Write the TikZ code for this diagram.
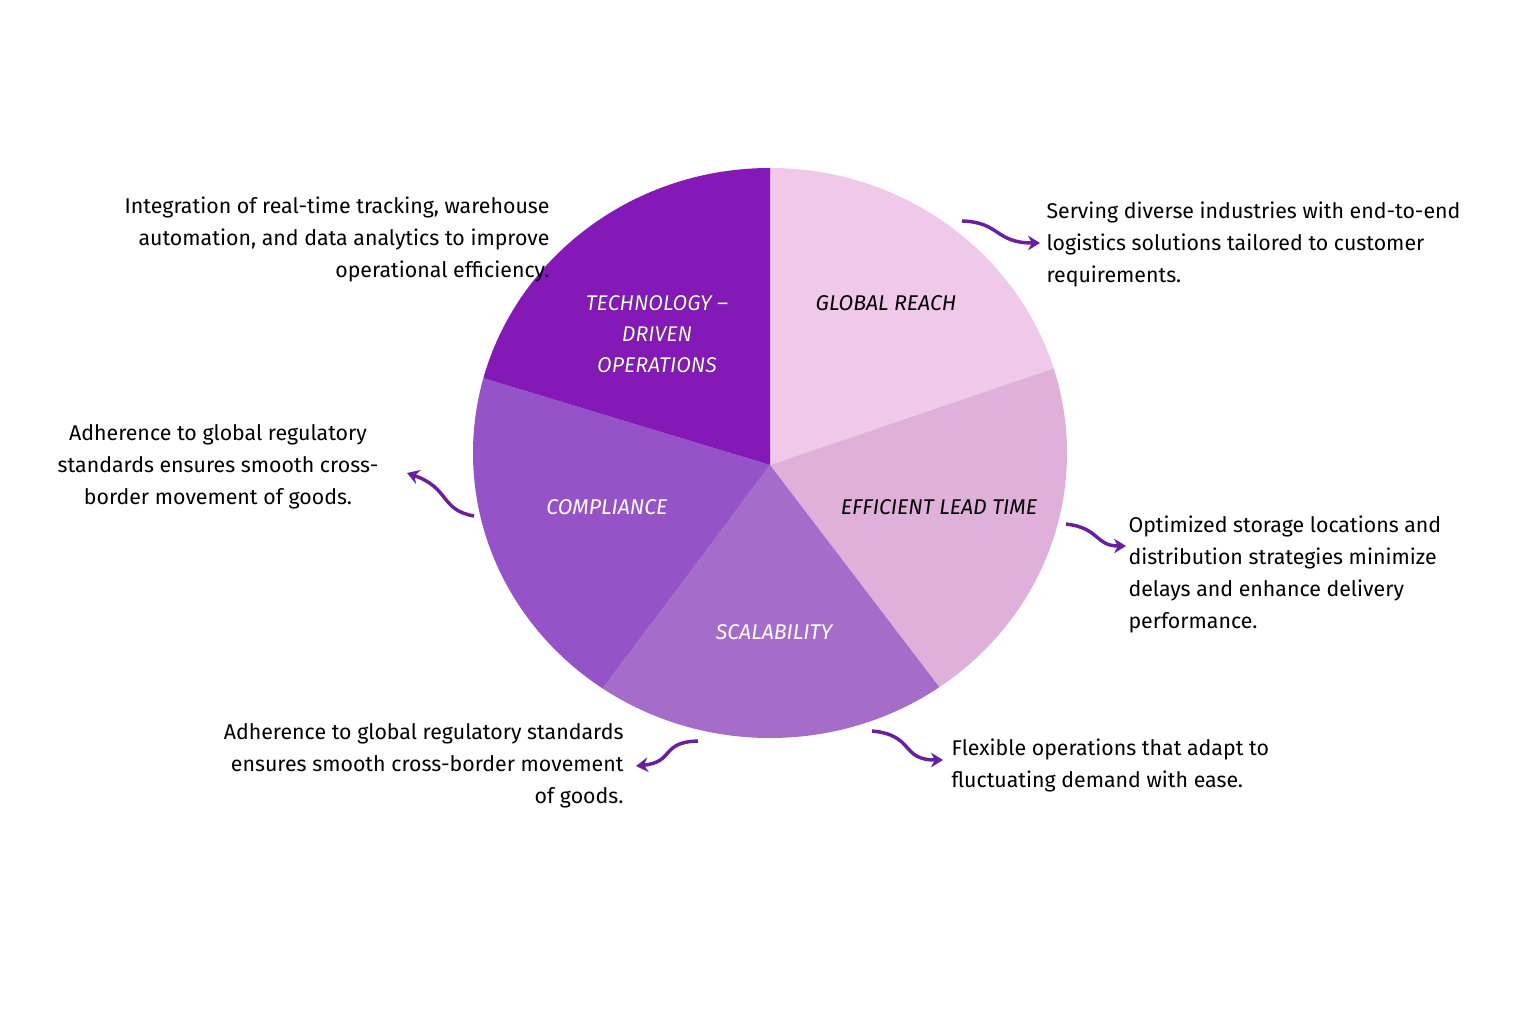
\documentclass[tikz,border=0pt]{standalone}
\usepackage{fontspec}
\setmainfont{Fira Sans}
\definecolor{reachpink}{HTML}{F0C8EA}
\definecolor{leadpink}{HTML}{DEB0DA}
\definecolor{scalepurple}{HTML}{A56DC9}
\definecolor{complpurple}{HTML}{9652C7}
\definecolor{techpurple}{HTML}{8519B8}
\definecolor{arrowpurple}{HTML}{6A1FA0}
\tikzset{every picture/.style={line width=0.75pt}}
\tikzset{
  wedgelabel/.style={font=\fontsize{16}{23}\selectfont\itshape, align=center, inner sep=0.75pt},
  note/.style={font=\fontsize{16}{24}\selectfont, inner sep=0.75pt},
  wavy/.style={draw=arrowpurple, line width=2.6pt, -{Stealth[length=9pt,width=11pt]}},
}
\usetikzlibrary{arrows.meta}
\begin{document}
\begin{tikzpicture}[x=0.75pt,y=0.75pt,yscale=-1,xscale=1]
\useasboundingbox (0,0) rectangle (1536,1024);
\coordinate (c) at (770,465);
%Shape: pie wedges
\begin{scope}
  \clip (770,453) ellipse (297 and 285);
  \fill[reachpink] (c) -- (770,-129) -- (1340,271) -- cycle;
  \fill[leadpink] (c) -- (1340,271) -- (1110,911) -- cycle;
  \fill[scalepurple] (c) -- (1110,911) -- (436,911) -- cycle;
  \fill[complpurple] (c) -- (436,911) -- (196,291) -- cycle;
  \fill[techpurple] (c) -- (196,291) -- (770,-129) -- cycle;
\end{scope}

\node[wedgelabel] (tech) at (657,334) {TECHNOLOGY –\\DRIVEN\\OPERATIONS};
\node[wedgelabel, text=white] at (tech) {TECHNOLOGY –\\DRIVEN\\OPERATIONS};
\node[wedgelabel] (reach) at (886,303) {GLOBAL REACH};
\node[wedgelabel] (lead) at (939,507) {EFFICIENT LEAD TIME};
\node[wedgelabel, text=white] (scale) at (774,632) {SCALABILITY};
\node[wedgelabel, text=white] (compl) at (607,507) {COMPLIANCE};

%Notes
\node[note, anchor=north east, align=right] (techtxt) at (551,195) {Integration of real-time tracking, warehouse\\automation, and data analytics to improve\\operational efficiency.};
\node[note, anchor=north west, align=left] (reachtxt) at (1045,200) {Serving diverse industries with end-to-end\\logistics solutions tailored to customer\\requirements.};
\node[note, anchor=north, align=center] (compltxt) at (218,423) {Adherence to global regulatory\\standards ensures smooth cross-\\border movement of goods.};
\node[note, anchor=north west, align=left] (leadtxt) at (1127,514) {Optimized storage locations and\\distribution strategies minimize\\delays and enhance delivery\\performance.};
\node[note, anchor=north east, align=right] (bltxt) at (625,722) {Adherence to global regulatory standards\\ensures smooth cross-border movement\\of goods.};
\node[note, anchor=north west, align=left] (scaletxt) at (950,737) {Flexible operations that adapt to\\fluctuating demand with ease.};

%Wavy arrows
\coordinate (a1) at (962,221); \coordinate (b1) at (1040,243);
\coordinate (a2) at (1066,524); \coordinate (b2) at (1126,546);
\coordinate (a3) at (872,731); \coordinate (b3) at (943,760);
\coordinate (a4) at (698,741); \coordinate (b4) at (636,766);
\coordinate (a5) at (474,516); \coordinate (b5) at (407,473);
\draw[wavy] (a1) .. controls (1000,222) and (995,243) .. (b1);
\draw[wavy] (a2) .. controls (1100,528) and (1095,546) .. (b2);
\draw[wavy] (a3) .. controls (915,735) and (900,760) .. (b3);
\draw[wavy] (a4) .. controls (660,742) and (675,762) .. (b4);
\draw[wavy] (a5) .. controls (440,510) and (450,488) .. (b5);
\end{tikzpicture}
\end{document}
